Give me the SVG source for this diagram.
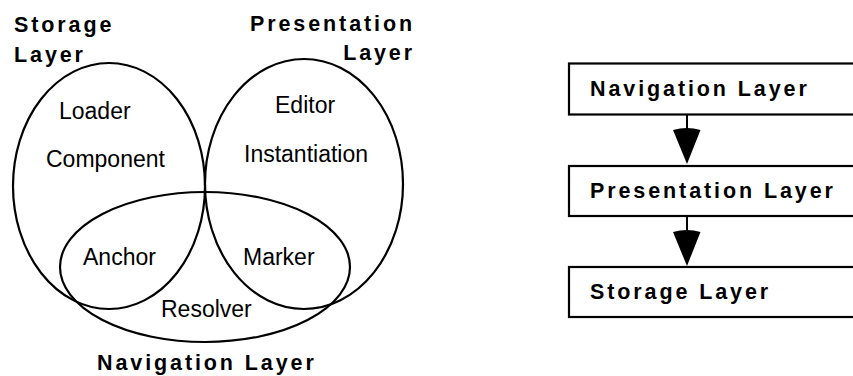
<svg xmlns="http://www.w3.org/2000/svg" width="853" height="376" viewBox="0 0 853 376">
  <style>
    .ring { fill: none; stroke: #000; stroke-width: 2.2; }
    .box { fill: #fff; stroke: #000; stroke-width: 2.2; }
    .lbl { font-family: "Liberation Sans", Arial, sans-serif; font-size: 23px; fill: #000; }
    .title { font-family: "Liberation Sans", Arial, sans-serif; font-size: 21.5px; font-weight: bold; letter-spacing: 2.9px; fill: #000; }
    .edge { stroke: #000; stroke-width: 2; fill: none; }
    .head { fill: #000; stroke: none; }
  </style>

  <!-- Venn view of the three layers -->
  <g id="storage-layer">
    <ellipse class="ring" cx="109" cy="186" rx="96" ry="123"/>
    <text class="title" x="14" y="32">Storage</text>
    <text class="title" x="14" y="62">Layer</text>
    <text class="lbl" x="59" y="119">Loader</text>
    <text class="lbl" x="46" y="167">Component</text>
  </g>

  <g id="presentation-layer">
    <ellipse class="ring" cx="304" cy="184" rx="99" ry="125"/>
    <text class="title" x="415" y="31" text-anchor="end">Presentation</text>
    <text class="title" x="415" y="60" text-anchor="end">Layer</text>
    <text class="lbl" x="275" y="113">Editor</text>
    <text class="lbl" x="244" y="162">Instantiation</text>
  </g>

  <g id="navigation-layer">
    <ellipse class="ring" cx="205" cy="267" rx="145" ry="75"/>
    <text class="title" x="97" y="370">Navigation Layer</text>
    <text class="lbl" x="83" y="265">Anchor</text>
    <text class="lbl" x="243" y="265">Marker</text>
    <text class="lbl" x="161" y="317">Resolver</text>
  </g>

  <!-- Stacked view of the same layers -->
  <g id="nav-box">
    <rect class="box" x="569" y="63.5" width="300" height="51"/>
    <text class="title" x="590" y="96">Navigation Layer</text>
  </g>
  <g id="pres-box">
    <rect class="box" x="569" y="166" width="300" height="50"/>
    <text class="title" x="590" y="198">Presentation Layer</text>
  </g>
  <g id="store-box">
    <rect class="box" x="569" y="267" width="300" height="50"/>
    <text class="title" x="590" y="299">Storage Layer</text>
  </g>

  <g id="connectors">
    <line class="edge" x1="687" y1="114.5" x2="687" y2="132"/>
    <path class="head" d="M673,130 Q687,126 700.5,130 L687,164 Z"/>
    <line class="edge" x1="687" y1="216" x2="687" y2="234"/>
    <path class="head" d="M673,232 Q687,228 700.5,232 L687,266 Z"/>
  </g>
</svg>
